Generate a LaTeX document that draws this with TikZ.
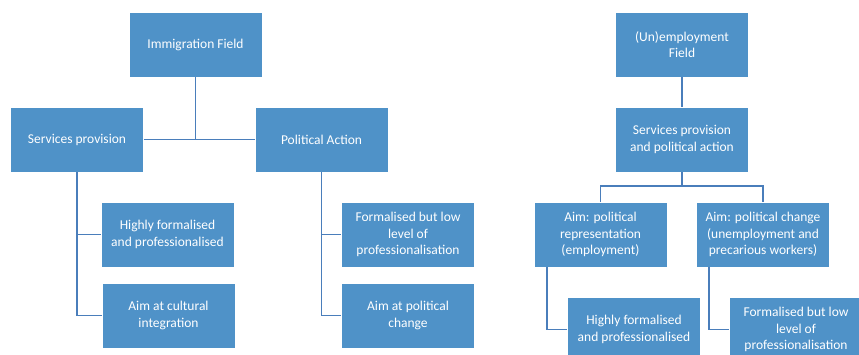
\documentclass[tikz,border=0pt]{standalone}
\usepackage{fontspec}
\setmainfont{Carlito}
\definecolor{boxblue}{HTML}{4F92C8}
\definecolor{lineblue}{HTML}{4A7EBB}
\begin{document}
\begin{tikzpicture}[x=1pt,y=-1pt,
  box/.style={rectangle, fill=boxblue, draw=white, line width=0.6pt, text=white,
    minimum width=133pt, minimum height=65pt, inner sep=2pt, align=center,
    font=\fontsize{13.5}{16.5}\selectfont},
  conn/.style={draw=lineblue, line width=1.2pt}]
\useasboundingbox (0,0) rectangle (859,355);
\clip (0,0) rectangle (859,355);
\fill[white] (0,0) rectangle (859,355);
% left tree
\node[box] (imm) at (195.5,44.5) {Immigration Field};
\node[box] (sp) at (77,139.5) {Services provision};
\node[box] (pa) at (321.5,139.5) {Political Action};
\node[box] (hf1) at (167.5,234.5) {Highly formalised\\and professionalised};
\node[box] (ac) at (168.5,315.5) {Aim at cultural\\integration};
\node[box] (fl1) at (408,234.5) {Formalised but low\\level of\\professionalisation};
\node[box] (ap) at (408,315.5) {Aim at political\\change};
% right tree
\node[box] (un) at (682,44.5) {(Un)employment\\Field};
\node[box] (sppa) at (682,139.5) {Services provision\\and political action};
\node[box] (ar) at (600.5,234.5) {Aim: political\\representation\\(employment)};
\node[box] (apc) at (763,234.5) {Aim: political change\\(unemployment and\\precarious workers)};
\node[box] (hf2) at (634,329.5) {Highly formalised\\and professionalised};
\node[box] (fl2) at (796,329.5) {Formalised but low\\level of\\professionalisation};
% connectors
\draw[conn] (sp.east) -- (pa.west);
\draw[conn] (imm.south) -- (imm.south |- sp.east);
\draw[conn] (sp.south) |- (hf1.west);
\draw[conn] (sp.south) |- (ac.west);
\draw[conn] (pa.south) |- (fl1.west);
\draw[conn] (pa.south) |- (ap.west);
\draw[conn] (un.south) -- (sppa.north);
\coordinate (j) at (682,186);
\draw[conn] (sppa.south) -- (j) -| (ar.north);
\draw[conn] (j) -| (apc.north);
\coordinate (arb) at (547,267);
\coordinate (apcb) at (709,267);
\draw[conn] (arb) |- (hf2.west);
\draw[conn] (apcb) |- (fl2.west);
\end{tikzpicture}
\end{document}
